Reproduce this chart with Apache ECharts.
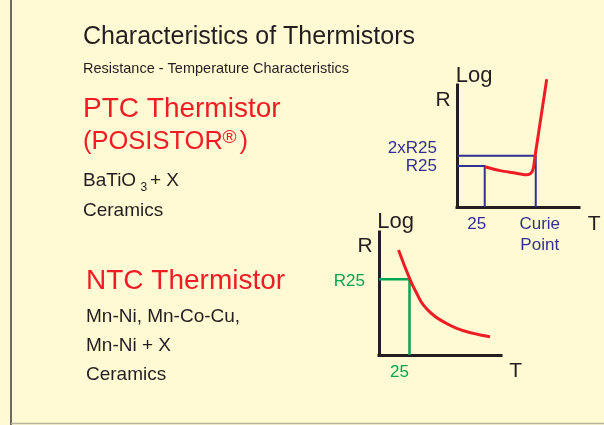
<!DOCTYPE html>
<html><head><meta charset="utf-8">
<script src="https://cdn.jsdelivr.net/npm/echarts@6/dist/echarts.min.js"></script>
<style>html,body{margin:0;padding:0;background:#FFFAD4;}#c{width:604px;height:425px;}</style>
</head><body><div id="c"></div>
<script>
// ---------- PTC thermistor (arbitrary T units, log R units) ----------
const ptcTemp  = [25, 38.8, 50.8, 62.8, 66.5, 68.8, 70.3, 80.9];
const ptcLogR  = [33, 29.8, 28.1, 26.5, 27.6, 31.7, 41.2, 104.7];
const ptcRefTemp   = [25, 71];          // 25, Curie point
const ptcTempLabels = ['25', 'Curie\nPoint'];
const ptcRefLogR   = [33.6, 42];        // R25, 2xR25
const ptcRLabels   = ['R25', '2xR25'];

// ---------- NTC thermistor ----------
const ntcTemp  = [16, 25.4, 30.9, 36.3, 44.5, 52.7, 63.7, 77.3, 91];
const ntcLogR  = [85.4, 61.5, 50.2, 40.7, 32.5, 27.1, 21.7, 17.6, 14.9];
const ntcRefTemp   = [25];
const ntcTempLabels = ['25'];
const ntcRefLogR   = [61.5];
const ntcRLabels   = ['R25'];

const FONT = '"Liberation Sans", Arial, Helvetica, sans-serif';
const RED = '#EE1C25', BLUE = '#2E3192', GREEN = '#00A651', INK = '#231F20';

const zip = (a, b) => a.map((v, i) => [v, b[i]]);
const guide = (t, r) => [[0, r], [t, r], [t, 0]];

function xRich(color) {
  const base = { color: color, fontSize: 17, fontFamily: FONT, lineHeight: 21 };
  return {
    l16: Object.assign({ padding: [0, 16, 0, 0] }, base),
    l20: Object.assign({ padding: [0, 20, 0, 0] }, base),
    r8:  Object.assign({ padding: [0, 0, 0, 8] }, base)
  };
}

function axisX(grid, max, vals, labels, color, styles) {
  return {
    type: 'value', gridIndex: grid, min: 0, max: max,
    axisLine: { show: true, onZero: false, lineStyle: { color: INK, width: 3, cap: 'square' } },
    axisTick: { show: false }, splitLine: { show: false },
    axisLabel: {
      customValues: vals, color: color, fontSize: 17, fontFamily: FONT,
      lineHeight: 21, margin: 7,
      formatter: v => {
        const i = vals.indexOf(v);
        if (i < 0) return '';
        return labels[i].split('\n').map(s => '{' + styles[i] + '|' + s + '}').join('\n');
      },
      rich: xRich(color)
    }
  };
}
function axisY(grid, max, vals, labels, color, margin, shiftStyle) {
  return {
    type: 'value', gridIndex: grid, min: 0, max: max,
    axisLine: { show: true, onZero: false, lineStyle: { color: INK, width: 3, cap: 'square' } },
    axisTick: { show: false }, splitLine: { show: false },
    axisLabel: {
      customValues: vals, color: color, fontSize: 17, fontFamily: FONT, margin: margin,
      formatter: v => {
        const i = vals.indexOf(v);
        if (i < 0) return '';
        const s = labels[i];
        return shiftStyle[i] ? '{' + shiftStyle[i] + '|' + s + '}' : s;
      },
      rich: {
        up: { color: color, fontSize: 17, fontFamily: FONT, padding: [0, 0, 14, 0] },
        dn: { color: color, fontSize: 17, fontFamily: FONT, padding: [4, 0, 0, 0] }
      }
    }
  };
}

function txt(x, base, s, size, color, align) {
  return {
    type: 'text', x: x, y: base - 0.33 * size, silent: true,
    style: { text: s, fontSize: size, fontFamily: FONT, fill: color,
             align: align || 'left', verticalAlign: 'middle' }
  };
}

const chart = echarts.init(document.getElementById('c'), null, { renderer: 'canvas' });
chart.setOption({
  backgroundColor: '#FFFAD4',
  animation: false,
  grid: [
    { left: 457, top: 85, width: 122, height: 122 },
    { left: 379, top: 232, width: 122, height: 123 }
  ],
  xAxis: [
    axisX(0, 110, ptcRefTemp, ptcTempLabels, BLUE, ['l16', 'r8']),
    axisX(1, 100, ntcRefTemp, ntcTempLabels, GREEN, ['l20'])
  ],
  yAxis: [
    axisY(0, 100, ptcRefLogR, ptcRLabels, BLUE, 20, [null, 'up']),
    axisY(1, 100, ntcRefLogR, ntcRLabels, GREEN, 14, ['dn'])
  ],
  series: [
    { type: 'line', xAxisIndex: 0, yAxisIndex: 0, data: guide(ptcRefTemp[1], ptcRefLogR[1]),
      showSymbol: false, silent: true, lineStyle: { color: BLUE, width: 2 }, z: 2 },
    { type: 'line', xAxisIndex: 0, yAxisIndex: 0, data: guide(ptcRefTemp[0], ptcRefLogR[0]),
      showSymbol: false, silent: true, lineStyle: { color: BLUE, width: 2 }, z: 2 },
    { type: 'line', xAxisIndex: 0, yAxisIndex: 0, data: zip(ptcTemp, ptcLogR),
      smooth: 0.3, clip: false,
      showSymbol: false, silent: true, lineStyle: { color: RED, width: 3 }, z: 3 },
    { type: 'line', xAxisIndex: 1, yAxisIndex: 1, data: guide(ntcRefTemp[0], ntcRefLogR[0]),
      showSymbol: false, silent: true, lineStyle: { color: GREEN, width: 2.5 }, z: 2 },
    { type: 'line', xAxisIndex: 1, yAxisIndex: 1, data: zip(ntcTemp, ntcLogR),
      smooth: 0.5, clip: false,
      showSymbol: false, silent: true, lineStyle: { color: RED, width: 3 }, z: 3 }
  ],
  graphic: [
    { type: 'line', silent: true, shape: { x1: 11, y1: 0, x2: 11, y2: 425 },
      style: { stroke: '#3A3A3A', lineWidth: 1.5 } },
    { type: 'line', silent: true, shape: { x1: 11, y1: 423.5, x2: 604, y2: 423.5 },
      style: { stroke: '#B9B59C', lineWidth: 1.5 } },
    txt(83, 45, 'Characteristics of Thermistors', 25, INK),
    txt(83, 74, 'Resistance - Temperature Characteristics', 14.5, INK),
    txt(83, 119, 'PTC Thermistor', 28, RED),
    txt(83, 150.5, '(POSISTOR', 25.5, RED),
    txt(222.5, 144.5, '®', 19, RED),
    txt(239.5, 150.5, ')', 25.5, RED),
    txt(83, 187.5, 'BaTiO', 19, INK),
    txt(140.5, 192, '3', 12, INK),
    txt(150, 187.5, '+ X', 19, INK),
    txt(83, 217, 'Ceramics', 19, INK),
    txt(86, 290.5, 'NTC Thermistor', 28, RED),
    txt(86, 323.5, 'Mn-Ni, Mn-Co-Cu,', 19, INK),
    txt(86, 352, 'Mn-Ni + X', 19, INK),
    txt(86, 381.5, 'Ceramics', 19, INK),
    // PTC axis names
    txt(455.7, 83, 'Log', 22, INK),
    txt(450.7, 107, 'R', 21, INK, 'right'),
    txt(587.7, 231, 'T', 21, INK),
    // NTC axis names
    txt(377.3, 229.5, 'Log', 22, INK),
    txt(372.7, 253.5, 'R', 21, INK, 'right'),
    txt(509.3, 378.5, 'T', 21, INK)
  ]
});
</script>
</body></html>
